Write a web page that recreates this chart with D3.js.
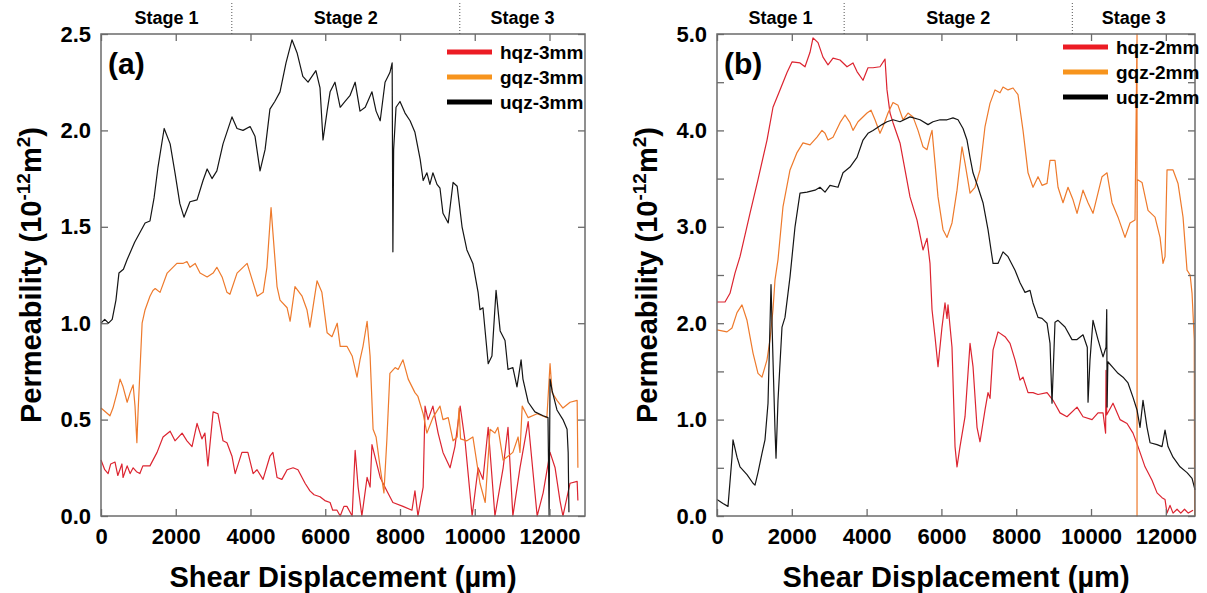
<!DOCTYPE html>
<html>
<head>
<meta charset="utf-8">
<script src="https://d3js.org/d3.v7.min.js"></script>
<style>
  body { margin: 0; background: #fff; }
  text { font-family: "Liberation Sans", Arial, sans-serif; font-weight: bold; fill: #000; }
</style>
</head>
<body>
<div id="chart"></div>
<script>
// ---- data ----
var xTicks = [0, 2000, 4000, 6000, 8000, 10000, 12000];
var aYTicks = [0, 0.5, 1.0, 1.5, 2.0, 2.5];
var bYTicks = [0, 0.5, 1.0, 1.5, 2.0, 2.5, 3.0, 3.5, 4.0, 4.5, 5.0];
var bYLabels = [0, 1, 2, 3, 4, 5];
var stages = ["Stage 1", "Stage 2", "Stage 3"];
var aStageBreaks = [3500, 9600];
var bStageBreaks = [3400, 9500];
var aNames = ["hqz-3mm", "gqz-3mm", "uqz-3mm"];
var bNames = ["hqz-2mm", "gqz-2mm", "uqz-2mm"];

var hqz3 = [[0,0.29],[100,0.24],[190,0.22],[260,0.27],[375,0.28],[450,0.21],[560,0.27],[590,0.20],[700,0.26],[780,0.22],[860,0.25],[950,0.23],[1040,0.22],[1120,0.26],[1310,0.26],[1500,0.33],[1660,0.41],[1850,0.44],[1980,0.39],[2170,0.43],[2300,0.39],[2435,0.36],[2570,0.48],[2700,0.40],[2780,0.43],[2860,0.26],[3000,0.54],[3130,0.53],[3265,0.39],[3370,0.38],[3505,0.31],[3590,0.22],[3770,0.33],[3930,0.33],[4070,0.22],[4175,0.24],[4335,0.19],[4520,0.31],[4600,0.33],[4710,0.20],[4840,0.19],[4980,0.24],[5140,0.25],[5270,0.24],[5460,0.17],[5590,0.13],[5700,0.11],[5860,0.10],[5990,0.08],[6130,0.07],[6200,0.03],[6315,0.03],[6400,0.0],[6500,0.05],[6580,0.05],[6720,0.0],[6800,0.34],[6880,0.15],[6980,0.0],[7120,0.20],[7200,0.15],[7250,0.37],[7470,0.20],[7650,0.13],[7810,0.07],[8080,0.05],[8320,0.03],[8400,0.13],[8480,0.0],[8620,0.15],[8670,0.57],[8750,0.50],[8880,0.57],[9020,0.43],[9150,0.33],[9340,0.25],[9470,0.36],[9610,0.57],[9740,0.39],[9930,0.0],[10090,0.25],[10220,0.19],[10360,0.46],[10540,0.0],[10760,0.25],[10890,0.46],[11020,0.0],[11210,0.25],[11430,0.49],[11670,0.0],[11830,0.12],[12015,0.33],[12150,0.25],[12280,0.08],[12360,0.0],[12550,0.17],[12740,0.18],[12760,0.08]];

var gqz3 = [[0,0.56],[240,0.52],[320,0.56],[430,0.64],[510,0.71],[590,0.67],[700,0.59],[780,0.64],[860,0.68],[910,0.57],[960,0.38],[990,0.53],[1100,1.00],[1180,1.07],[1310,1.14],[1390,1.17],[1450,1.18],[1580,1.16],[1770,1.26],[2030,1.31],[2190,1.31],[2300,1.32],[2380,1.29],[2520,1.31],[2650,1.26],[2840,1.24],[3000,1.26],[3100,1.29],[3240,1.24],[3370,1.16],[3450,1.15],[3640,1.26],[3910,1.31],[3990,1.26],[4180,1.14],[4340,1.16],[4440,1.29],[4550,1.60],[4600,1.47],[4710,1.19],[4790,1.12],[4980,1.08],[5060,1.01],[5190,1.19],[5380,1.14],[5510,1.07],[5590,0.98],[5780,1.22],[5910,1.16],[6050,0.95],[6180,0.93],[6320,1.00],[6400,0.88],[6580,0.88],[6720,0.83],[6850,0.72],[6930,0.81],[7010,0.88],[7120,1.01],[7200,0.83],[7280,0.45],[7360,0.41],[7470,0.25],[7570,0.12],[7650,0.40],[7730,0.74],[7870,0.77],[7950,0.76],[8080,0.81],[8220,0.71],[8400,0.64],[8480,0.62],[8620,0.53],[8720,0.43],[8880,0.51],[9070,0.57],[9150,0.50],[9290,0.51],[9420,0.39],[9530,0.41],[9580,0.56],[9620,0.40],[9790,0.39],[9950,0.41],[10140,0.17],[10280,0.07],[10410,0.45],[10540,0.43],[10620,0.46],[10760,0.29],[10890,0.31],[11020,0.33],[11160,0.41],[11210,0.33],[11270,0.57],[11430,0.51],[11670,0.53],[11930,0.51],[12015,0.79],[12070,0.64],[12200,0.60],[12360,0.56],[12550,0.59],[12740,0.60],[12760,0.25]];

var uqz3 = [[0,1.00],[100,1.02],[200,1.00],[300,1.02],[400,1.12],[480,1.26],[600,1.28],[700,1.33],[900,1.42],[1180,1.52],[1310,1.53],[1420,1.65],[1525,1.81],[1690,2.01],[1850,1.93],[1980,1.78],[2110,1.62],[2220,1.55],[2380,1.63],[2570,1.64],[2730,1.74],[2840,1.80],[2970,1.75],[3100,1.79],[3265,1.93],[3505,2.07],[3640,2.01],[3800,2.00],[3990,2.02],[4120,1.97],[4255,1.79],[4390,1.90],[4520,2.11],[4650,2.15],[4790,2.20],[4950,2.35],[5110,2.47],[5250,2.40],[5400,2.28],[5540,2.25],[5750,2.31],[5860,2.22],[5940,1.95],[6050,2.10],[6130,2.20],[6260,2.25],[6400,2.12],[6530,2.15],[6660,2.18],[6800,2.25],[6930,2.10],[7070,2.12],[7250,2.20],[7360,2.10],[7470,2.05],[7600,2.25],[7730,2.30],[7790,2.35],[7810,1.37],[7830,1.90],[7894,2.12],[8000,2.15],[8135,2.09],[8270,2.05],[8400,1.99],[8540,1.85],[8620,1.74],[8720,1.78],[8800,1.72],[8880,1.78],[8990,1.72],[9070,1.70],[9150,1.57],[9290,1.52],[9420,1.73],[9530,1.71],[9660,1.50],[9790,1.38],[9950,1.31],[10090,1.16],[10140,1.07],[10220,1.08],[10360,0.79],[10460,0.83],[10570,1.17],[10680,0.96],[10810,0.91],[10890,0.76],[11020,0.77],[11130,0.67],[11240,0.81],[11290,0.71],[11430,0.59],[11610,0.54],[11830,0.52],[11960,0.51],[11990,0.0],[12015,0.71],[12070,0.65],[12200,0.55],[12360,0.50],[12470,0.45],[12500,0.33],[12520,0.02]];

var hqz2 = [[0,2.22],[214,2.22],[348,2.31],[481,2.52],[615,2.69],[882,3.14],[1096,3.49],[1337,3.90],[1497,4.24],[1684,4.42],[1872,4.60],[2005,4.71],[2219,4.70],[2353,4.66],[2487,4.81],[2567,4.96],[2701,4.91],[2834,4.76],[2968,4.68],[3102,4.75],[3289,4.73],[3476,4.66],[3636,4.70],[3743,4.61],[3904,4.52],[4037,4.65],[4171,4.65],[4358,4.66],[4492,4.74],[4545,4.42],[4626,4.18],[4706,4.08],[4893,3.87],[5027,3.59],[5160,3.31],[5348,3.07],[5508,2.76],[5615,2.88],[5695,2.62],[5749,2.14],[5829,1.86],[5909,1.55],[6016,1.96],[6096,2.21],[6150,2.05],[6176,2.19],[6283,1.75],[6364,0.72],[6417,0.51],[6497,0.72],[6631,1.03],[6765,1.79],[6845,1.55],[6952,0.92],[7032,0.77],[7166,1.10],[7246,1.28],[7300,1.22],[7380,1.72],[7513,1.91],[7701,1.86],[7834,1.79],[7968,1.62],[8102,1.41],[8182,1.44],[8316,1.28],[8449,1.28],[8583,1.26],[8824,1.28],[8984,1.20],[9171,1.07],[9358,1.03],[9626,1.13],[9786,1.03],[10027,1.00],[10187,1.07],[10321,1.07],[10390,0.86],[10401,1.51],[10420,1.05],[10588,1.17],[10775,1.00],[10963,0.96],[11123,0.86],[11257,0.72],[11444,0.51],[11631,0.37],[11765,0.24],[11898,0.19],[11979,0.17],[12032,0.03],[12112,0.11],[12193,0.03],[12300,0.07],[12400,0.03],[12500,0.07],[12600,0.03],[12727,0.06]];

var gqz2 = [[0,1.93],[267,1.91],[401,1.95],[535,2.11],[668,2.19],[802,2.03],[963,1.69],[1096,1.48],[1203,1.44],[1337,1.62],[1417,1.83],[1497,2.14],[1551,2.45],[1631,2.66],[1765,3.21],[1952,3.59],[2139,3.77],[2299,3.87],[2487,3.85],[2674,3.93],[2807,4.00],[2888,3.97],[2968,3.90],[3102,3.93],[3289,4.08],[3422,4.16],[3556,4.08],[3636,4.00],[3770,4.09],[4011,4.18],[4118,4.21],[4225,4.11],[4358,3.97],[4439,4.04],[4572,4.18],[4706,4.29],[4840,4.26],[4973,4.11],[5107,4.18],[5241,4.14],[5374,4.00],[5508,3.83],[5615,3.80],[5695,3.93],[5749,4.00],[5829,3.66],[5909,3.31],[6043,2.97],[6150,2.89],[6283,3.04],[6417,3.38],[6551,3.83],[6631,3.66],[6765,3.35],[6898,3.41],[7032,3.59],[7166,4.04],[7299,4.28],[7433,4.42],[7567,4.39],[7647,4.45],[7781,4.42],[7914,4.44],[8048,4.37],[8182,4.00],[8316,3.56],[8449,3.41],[8583,3.52],[8690,3.43],[8824,3.45],[8904,3.69],[9037,3.69],[9118,3.41],[9251,3.25],[9385,3.41],[9519,3.28],[9626,3.14],[9786,3.38],[9920,3.25],[10053,3.14],[10294,3.52],[10428,3.56],[10561,3.25],[10722,3.10],[10909,2.89],[11043,3.04],[11176,3.07],[11230,5.0],[11230,0.0],[11236,3.49],[11364,3.46],[11524,3.17],[11711,3.10],[11845,2.89],[11925,2.62],[11979,2.69],[12032,3.59],[12193,3.59],[12326,3.45],[12460,3.10],[12567,2.55],[12650,2.50],[12701,2.31],[12760,1.83],[12770,0.0]];

var uqz2 = [[0,0.17],[160,0.13],[294,0.10],[401,0.61],[428,0.79],[535,0.61],[615,0.51],[802,0.43],[963,0.34],[1016,0.32],[1096,0.45],[1203,0.65],[1283,0.79],[1364,1.17],[1444,2.40],[1497,1.62],[1551,0.89],[1578,0.60],[1631,1.20],[1738,1.96],[1818,2.06],[1898,2.31],[1952,2.48],[2086,3.00],[2219,3.35],[2406,3.36],[2620,3.38],[2754,3.41],[2888,3.36],[3021,3.43],[3235,3.41],[3369,3.56],[3556,3.62],[3743,3.72],[3904,3.90],[4037,3.97],[4171,4.00],[4412,4.06],[4545,4.09],[4706,4.11],[4893,4.09],[5160,4.14],[5428,4.11],[5642,4.06],[5775,4.09],[5963,4.11],[6150,4.11],[6310,4.13],[6444,4.11],[6578,4.02],[6684,3.90],[6765,3.72],[6845,3.56],[6979,3.41],[7112,3.25],[7246,2.97],[7380,2.62],[7513,2.62],[7647,2.74],[7781,2.69],[7968,2.55],[8102,2.42],[8235,2.32],[8369,2.34],[8449,2.21],[8583,2.06],[8690,2.05],[8824,2.00],[8904,1.79],[8957,1.17],[9037,2.01],[9118,2.03],[9305,1.96],[9492,1.83],[9626,1.83],[9786,1.88],[9900,1.75],[9920,1.18],[9973,1.62],[10053,2.03],[10187,1.83],[10321,1.65],[10401,1.75],[10420,2.14],[10430,1.13],[10450,1.60],[10588,1.54],[10722,1.48],[10856,1.44],[10989,1.38],[11123,1.23],[11230,1.10],[11310,0.92],[11390,1.20],[11497,0.92],[11578,0.76],[11765,0.74],[11898,0.72],[11979,0.89],[12059,0.72],[12193,0.61],[12380,0.51],[12567,0.45],[12701,0.39],[12781,0.27]];

var lineColors = ["#dc2430", "#ee7a2c", "#151515"];
var legendColors = ["#ec1c24", "#f7941d", "#000000"];

var W = 1207, H = 593;
var svg = d3.select("#chart").append("svg")
  .attr("width", W).attr("height", H);

function drawPanel(p) {
  var x = d3.scaleLinear().domain([0, p.xMax]).range([p.left, p.right]);
  var y = d3.scaleLinear().domain([0, p.yMax]).range([p.bottom, p.top]);
  var g = svg.append("g");

  // curves
  var line = d3.line().x(function(d) { return x(d[0]); }).y(function(d) { return y(d[1]); });
  p.series.forEach(function(s, i) {
    g.append("path").datum(s)
      .attr("fill", "none")
      .attr("stroke", lineColors[i])
      .attr("stroke-width", 1.2)
      .attr("stroke-linejoin", "round")
      .attr("d", line);
  });

  // axes with inward ticks
  var frameColor = "#6b6b6b";
  var bottom = g.append("g").attr("transform", "translate(0," + p.bottom + ")")
    .call(d3.axisBottom(x).tickValues(xTicks).tickSizeInner(-7).tickSizeOuter(0).tickPadding(12).tickFormat(d3.format("d")));
  var top = g.append("g").attr("transform", "translate(0," + p.top + ")")
    .call(d3.axisTop(x).tickValues(xTicks).tickSizeInner(-7).tickSizeOuter(0).tickFormat(""));
  var left = g.append("g").attr("transform", "translate(" + p.left + ",0)")
    .call(d3.axisLeft(y).tickValues(p.yTicks).tickSizeInner(-7).tickSizeOuter(0).tickPadding(10)
      .tickFormat(function(d) { return p.yLabels.indexOf(d) >= 0 ? d3.format(".1f")(d) : ""; }));
  var right = g.append("g").attr("transform", "translate(" + p.right + ",0)")
    .call(d3.axisRight(y).tickValues(p.yTicks).tickSizeInner(-7).tickSizeOuter(0).tickFormat(""));
  [bottom, top, left, right].forEach(function(a) {
    a.select(".domain").remove();
    a.selectAll("line").attr("stroke", frameColor).attr("stroke-width", 1.3);
    a.attr("font-family", null).attr("font-size", null);
    a.selectAll("text").style("font-size", "22px").attr("fill", "#000");
  });

  g.append("rect")
    .attr("x", p.left).attr("y", p.top)
    .attr("width", p.right - p.left).attr("height", p.bottom - p.top)
    .attr("fill", "none").attr("stroke", frameColor).attr("stroke-width", 1.5);

  // stage separators and labels
  p.stageBreaks.forEach(function(b) {
    g.append("line")
      .attr("x1", x(b)).attr("x2", x(b)).attr("y1", 3).attr("y2", p.top)
      .attr("stroke", "#555").attr("stroke-width", 1).attr("stroke-dasharray", "1,2");
  });
  var edges = [0].concat(p.stageBreaks).concat([p.xMax]);
  stages.forEach(function(s, i) {
    g.append("text")
      .attr("x", x((edges[i] + edges[i + 1]) / 2)).attr("y", 24)
      .attr("text-anchor", "middle").style("font-size", "18px").text(s);
  });

  // panel tag
  g.append("text").attr("x", p.left + 7).attr("y", p.top + 40)
    .style("font-size", "30px").text(p.tag);

  // legend
  p.names.forEach(function(n, i) {
    var ly = p.legendY + i * 25;
    g.append("line").attr("x1", p.legendX).attr("x2", p.legendX + 45)
      .attr("y1", ly).attr("y2", ly)
      .attr("stroke", legendColors[i]).attr("stroke-width", 5);
    g.append("text").attr("x", p.legendX + 53).attr("y", ly + 7)
      .style("font-size", "19px").text(n);
  });

  // axis titles
  var cx = (p.left + p.right) / 2, cy = (p.top + p.bottom) / 2;
  g.append("text").attr("x", cx).attr("y", 587)
    .attr("text-anchor", "middle").style("font-size", "29px")
    .text("Shear Displacement (\u00b5m)");
  var yt = g.append("text")
    .attr("transform", "translate(" + (p.left - 60) + "," + cy + ") rotate(-90)")
    .attr("text-anchor", "middle").style("font-size", "29px");
  yt.append("tspan").text("Permeability (10");
  yt.append("tspan").attr("dy", -11).style("font-size", "19px").text("-12");
  yt.append("tspan").attr("dy", 11).text("m");
  yt.append("tspan").attr("dy", -11).style("font-size", "19px").text("2");
  yt.append("tspan").attr("dy", 11).text(")");
}

drawPanel({
  left: 101, right: 585, top: 34, bottom: 516,
  xMax: 12950, yMax: 2.5, yTicks: aYTicks, yLabels: aYTicks,
  stageBreaks: aStageBreaks, tag: "(a)", names: aNames,
  series: [hqz3, gqz3, uqz3], legendX: 447, legendY: 52
});
drawPanel({
  left: 717, right: 1195, top: 34, bottom: 516,
  xMax: 12780, yMax: 5, yTicks: bYTicks, yLabels: bYLabels,
  stageBreaks: bStageBreaks, tag: "(b)", names: bNames,
  series: [hqz2, gqz2, uqz2], legendX: 1063, legendY: 47
});
</script>
</body>
</html>
